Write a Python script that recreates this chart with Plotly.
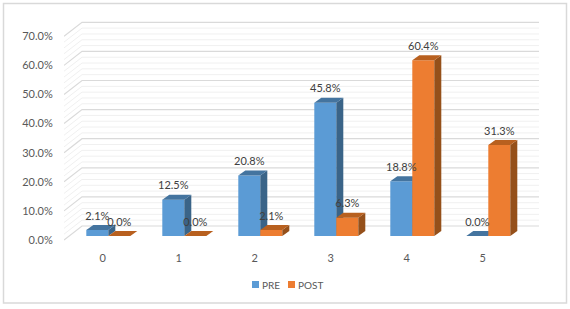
import plotly.graph_objects as go

categories = ["0", "1", "2", "3", "4", "5"]
pre_values = [2.1, 12.5, 20.8, 45.8, 18.8, 0.0]
post_values = [0.0, 0.0, 2.1, 6.3, 60.4, 31.3]
y_ticks = [0, 10, 20, 30, 40, 50, 60, 70]
y_labels = ["0.0%", "10.0%", "20.0%", "30.0%", "40.0%", "50.0%", "60.0%", "70.0%"]

W, H = 570, 309
PX_X = 76.0   # px per category
PX_Y = 2.91   # px per percent
X0, Y0 = 108.3, 236.0  # px of first group centre / bar base
L, R, T, B = 64, 546, 20, 242

dx = lambda p: p / PX_X
dy = lambda p: p / PX_Y
xr = [(L - X0) / PX_X, (R - X0) / PX_X]
yr = [(Y0 - B) / PX_Y, (Y0 - T) / PX_Y]
BAR = dx(22)
DX, DY = dx(7), dy(5)

FONT = "Lato, Carlito, Calibri, sans-serif"
BLUE, BLUE_TOP, BLUE_SIDE = "#5B9BD5", "#44749F", "#3A6488"
ORANGE, ORANGE_TOP, ORANGE_SIDE = "#ED7D31", "#B8601F", "#95501A"

fig = go.Figure()

# back wall grid, offset from the bar plane
wall_x0, wall_x1, wall_xb = dx(64 - X0), dx(82 - X0), dx(539 - X0)
major_x, major_y, minor_x, minor_y = [], [], [], []
for v in range(0, 72, 2):
    xs = [wall_x0, wall_x1, wall_xb, None]
    ys = [v + dy(-4), v + dy(10), v + dy(10), None]
    if v % 10 == 0:
        major_x += xs; major_y += ys
    else:
        minor_x += xs; minor_y += ys
fig.add_trace(go.Scatter(x=minor_x, y=minor_y, mode="lines", line=dict(color="#F0F0F0", width=1),
                         hoverinfo="skip", showlegend=False))
fig.add_trace(go.Scatter(x=major_x, y=major_y, mode="lines", line=dict(color="#DADADA", width=1.2),
                         hoverinfo="skip", showlegend=False))


def faces(vals, left, top_col, side_col, xa, ya):
    for i, v in enumerate(vals):
        xl = i + left
        xm = xl + BAR
        fig.add_trace(go.Scatter(x=[xm, xm + DX, xm + DX, xm, xm], y=[0, DY, v + DY, v, 0],
                                 mode="lines", fill="toself", fillcolor=side_col, line=dict(width=0),
                                 hoverinfo="skip", showlegend=False, xaxis=xa, yaxis=ya))
        fig.add_trace(go.Scatter(x=[xl, xm, xm + DX, xl + DX, xl], y=[v, v, v + DY, v + DY, v],
                                 mode="lines", fill="toself", fillcolor=top_col, line=dict(width=0),
                                 hoverinfo="skip", showlegend=False, xaxis=xa, yaxis=ya))


idx = list(range(len(categories)))
fig.add_trace(go.Bar(x=idx, y=pre_values, width=BAR, offset=-BAR, name="PRE", marker=dict(color=BLUE, line=dict(width=0)),
                     showlegend=False, xaxis="x2", yaxis="y2"))
faces(pre_values, -BAR, BLUE_TOP, BLUE_SIDE, "x2", "y2")
fig.add_trace(go.Bar(x=idx, y=post_values, width=BAR, offset=0, name="POST", marker=dict(color=ORANGE, line=dict(width=0)),
                     showlegend=False, xaxis="x3", yaxis="y3"))
faces(post_values, 0, ORANGE_TOP, ORANGE_SIDE, "x3", "y3")

lab = dy(13)
for vals, off in ((pre_values, -BAR / 2), (post_values, BAR / 2)):
    fig.add_trace(go.Scatter(x=[i + off for i in idx], y=[v + lab for v in vals],
                             text=[f"{v:.1f}%" for v in vals], mode="text", textposition="middle center",
                             textfont=dict(family=FONT, size=11, color="#404040"),
                             hoverinfo="skip", showlegend=False, xaxis="x3", yaxis="y3"))

hidden = dict(visible=False, fixedrange=True)
fig.update_layout(
    width=W, height=H, autosize=False,
    margin=dict(l=L, r=W - R, t=T, b=H - B, pad=0),
    paper_bgcolor="white", plot_bgcolor="rgba(0,0,0,0)", showlegend=False,
    font=dict(family=FONT, size=11, color="#595959"),
    xaxis=dict(range=xr, tickmode="array", tickvals=[i + dx(-5.5) for i in idx], ticktext=categories,
               showgrid=False, zeroline=False, showline=False, ticks="outside", ticklen=6,
               tickcolor="rgba(0,0,0,0)", tickfont=dict(family=FONT, size=11, color="#595959")),
    yaxis=dict(range=yr, tickmode="array", tickvals=y_ticks, ticktext=y_labels, ticklabelshift=4,
               showgrid=False, zeroline=False, showline=False, ticks="outside", ticklen=8,
               tickcolor="rgba(0,0,0,0)", tickfont=dict(family=FONT, size=11, color="#595959")),
    xaxis2=dict(range=xr, overlaying="x", **hidden),
    yaxis2=dict(range=yr, overlaying="y", **hidden),
    xaxis3=dict(range=xr, overlaying="x", **hidden),
    yaxis3=dict(range=yr, overlaying="y", **hidden),
)

px = lambda p: (p - L) / (R - L)
py = lambda p: (B - p) / (B - T)
# outer frame
fig.add_shape(type="rect", xref="paper", yref="paper", x0=px(3.5), x1=px(566.5), y0=py(303), y1=py(3.5),
              line=dict(color="#D9D9D9", width=1.5), fillcolor="rgba(0,0,0,0)", layer="below")
# legend
for x_sw, color, name, x_txt in ((252, BLUE, "PRE", 261), (288, ORANGE, "POST", 297)):
    fig.add_shape(type="rect", xref="paper", yref="paper", x0=px(x_sw), x1=px(x_sw + 7), y0=py(288), y1=py(281),
                  line=dict(width=0), fillcolor=color)
    fig.add_annotation(xref="paper", yref="paper", x=px(x_txt), y=py(284.5), text=name, showarrow=False,
                       xanchor="left", yanchor="middle", xshift=0, borderpad=0,
                       font=dict(family=FONT, size=10, color="#595959"))

fig.write_html("out.html", config={"displayModeBar": False},
               post_script="document.body.style.margin='0';document.body.style.overflow='hidden';")
